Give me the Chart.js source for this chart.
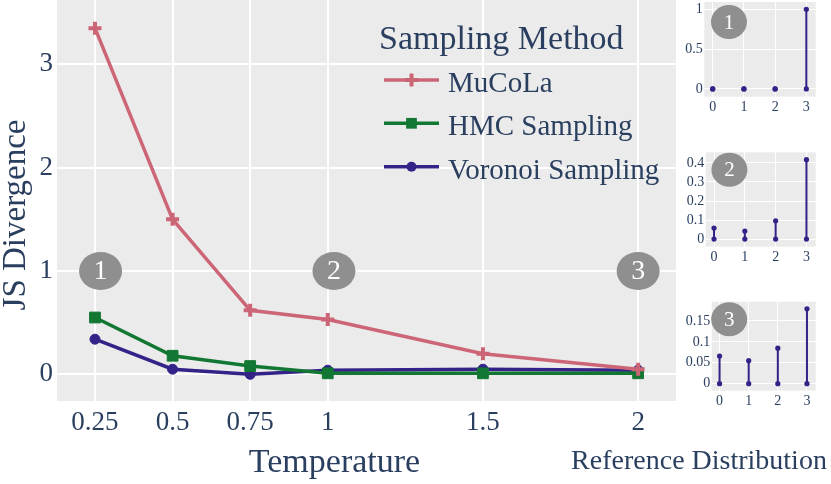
<!DOCTYPE html>
<html>
<head>
<meta charset="utf-8">
<script src="https://cdn.jsdelivr.net/npm/chart.js@4.4.0/dist/chart.umd.min.js"></script>
<style>
html,body{margin:0;padding:0;background:#fff;width:831px;height:484px;overflow:hidden;}
canvas{position:absolute;}
</style>
</head>
<body>
<canvas id="main" width="831" height="484" style="left:0;top:0;width:831px;height:484px"></canvas>
<canvas id="p1" width="151" height="120" style="left:680px;top:0px;width:151px;height:120px"></canvas>
<canvas id="p2" width="151" height="135" style="left:680px;top:140px;width:151px;height:135px"></canvas>
<canvas id="p3" width="151" height="135" style="left:680px;top:280px;width:151px;height:135px"></canvas>
<script>
// ---------------- data ----------------
const temperatures = [0.25, 0.5, 0.75, 1, 1.5, 2];
const temperatureTickLabels = ['0.25', '0.5', '0.75', '1', '1.5', '2'];
const divergenceTicks = [0, 1, 2, 3];
const divergenceTickLabels = ['0', '1', '2', '3'];
const seriesNames = ['MuCoLa', 'HMC Sampling', 'Voronoi Sampling'];
const mucolaJS = [3.35, 1.50, 0.62, 0.53, 0.20, 0.05];
const hmcJS = [0.55, 0.18, 0.08, 0.01, 0.01, 0.01];
const voronoiJS = [0.34, 0.05, 0.00, 0.04, 0.05, 0.04];
const badgeLabels = ['1', '2', '3'];
const badgeTemperatures = [0.268, 1.02, 2.0];
const badgeDivergence = [1, 1, 1];

const refCategories = [0, 1, 2, 3];
const refCategoryLabels = ['0', '1', '2', '3'];
const refDist1 = [0, 0, 0, 1];
const refDist2 = [0.058, 0.042, 0.096, 0.417];
const refDist3 = [0.066, 0.055, 0.085, 0.179];
const refTicks1 = [0, 0.5, 1];
const refTickLabels1 = ['0', '0.5', '1'];
const refTicks2 = [0, 0.1, 0.2, 0.3, 0.4];
const refTickLabels2 = ['0', '0.1', '0.2', '0.3', '0.4'];
const refTicks3 = [0, 0.05, 0.1, 0.15];
const refTickLabels3 = ['0', '0.05', '0.1', '0.15'];

// ---------------- styling ----------------
const FONT = '"Liberation Serif", "Times New Roman", serif';
const TEXT = '#2a3f5f';
const BG = '#ebebeb';
const BADGE = '#8f8f8f';
const COLORS = ['#cc6677', '#117733', '#332288'];
const STYLES = [
  {pointStyle: 'cross', radius: 6.5, borderWidth: 4},
  {pointStyle: 'rect', radius: 7.6, borderWidth: 1},
  {pointStyle: 'circle', radius: 5, borderWidth: 1}
];

const bgPlugin = {
  id: 'plotBg',
  beforeDraw(chart) {
    const {ctx, chartArea: a} = chart;
    ctx.save();
    ctx.fillStyle = BG;
    ctx.fillRect(a.left, a.top, a.right - a.left, a.bottom - a.top);
    ctx.restore();
  }
};

function badgePlugin(xs, ys, labels, rx, ry, size) {
  return {
    id: 'badges',
    beforeDatasetsDraw(chart) {
      const {ctx, scales: {x, y}} = chart;
      labels.forEach((t, i) => {
        const px = x.getPixelForValue(xs[i]);
        const py = y.getPixelForValue(ys[i]);
        ctx.save();
        ctx.fillStyle = BADGE;
        ctx.beginPath();
        ctx.ellipse(px, py, rx, ry, 0, 0, Math.PI * 2);
        ctx.fill();
        ctx.fillStyle = '#ffffff';
        ctx.font = size + 'px ' + FONT;
        ctx.textAlign = 'center';
        ctx.textBaseline = 'middle';
        ctx.fillText(t, px, py + 1);
        ctx.restore();
      });
    }
  };
}

function fixedTicks(values) {
  return (scale) => { scale.ticks = values.map(v => ({value: v})); };
}

function drawMarker(ctx, style, color, x, y) {
  ctx.save();
  ctx.fillStyle = color;
  ctx.strokeStyle = color;
  ctx.lineWidth = style.borderWidth;
  const r = style.radius;
  ctx.beginPath();
  if (style.pointStyle === 'cross') {
    ctx.moveTo(x - r, y); ctx.lineTo(x + r, y);
    ctx.moveTo(x, y - r); ctx.lineTo(x, y + r);
    ctx.stroke();
  } else if (style.pointStyle === 'rect') {
    const s = Math.SQRT1_2 * r;
    ctx.rect(x - s, y - s, 2 * s, 2 * s);
    ctx.fill();
  } else {
    ctx.arc(x, y, r, 0, Math.PI * 2);
    ctx.fill();
  }
  ctx.restore();
}

const mainTextPlugin = {
  id: 'mainText',
  afterDraw(chart) {
    const ctx = chart.ctx;
    ctx.save();
    ctx.fillStyle = TEXT;
    // legend
    ctx.textAlign = 'left';
    ctx.textBaseline = 'alphabetic';
    ctx.font = '34px ' + FONT;
    ctx.fillText('Sampling Method', 379, 49);
    const rows = [80, 123.3, 166.7];
    chart.data.datasets.forEach((ds, i) => {
      const y = rows[i];
      ctx.strokeStyle = COLORS[i];
      ctx.lineWidth = 3.5;
      ctx.beginPath();
      ctx.moveTo(384, y);
      ctx.lineTo(439, y);
      ctx.stroke();
      drawMarker(ctx, STYLES[i], COLORS[i], 411.5, y);
      ctx.fillStyle = TEXT;
      ctx.font = '29px ' + FONT;
      ctx.fillText(ds.label, 448, y + 12);
    });
    // axis titles
    ctx.textAlign = 'center';
    ctx.font = '34px ' + FONT;
    ctx.fillText('Temperature', 334.5, 471.5);
    ctx.font = '28px ' + FONT;
    ctx.fillText('Reference Distribution', 699, 469);
    ctx.translate(25, 215);
    ctx.rotate(-Math.PI / 2);
    ctx.font = '33px ' + FONT;
    ctx.fillText('JS Divergence', 0, 0);
    ctx.restore();
  }
};

const seriesValues = [mucolaJS, hmcJS, voronoiJS];
new Chart(document.getElementById('main'), {
  type: 'line',
  data: {
    datasets: seriesNames.map((name, i) => ({
      label: name,
      data: temperatures.map((t, j) => ({x: t, y: seriesValues[i][j]})),
      borderColor: COLORS[i],
      backgroundColor: COLORS[i],
      borderWidth: 3.5,
      pointStyle: STYLES[i].pointStyle,
      pointRadius: STYLES[i].radius,
      pointBorderWidth: STYLES[i].borderWidth,
      pointBackgroundColor: COLORS[i],
      pointBorderColor: COLORS[i],
      tension: 0,
      clip: false
    }))
  },
  options: {
    responsive: false,
    animation: false,
    events: [],
    layout: {autoPadding: false, padding: {left: 0, top: 0, right: 155, bottom: 0}},
    plugins: {legend: {display: false}, tooltip: {enabled: false}},
    scales: {
      x: {
        type: 'linear', min: 0.1276, max: 2.122,
        afterBuildTicks: fixedTicks(temperatures),
        ticks: {
          callback: (v, i) => temperatureTickLabels[i],
          font: {family: FONT, size: 27}, color: TEXT, padding: 6,
          autoSkip: false, maxRotation: 0
        },
        grid: {color: '#ffffff', lineWidth: 2, drawTicks: false},
        border: {display: false},
        afterFit: (s) => { s.height = 83; s.paddingLeft = 0; s.paddingRight = 0; }
      },
      y: {
        type: 'linear', min: -0.258, max: 3.623,
        afterBuildTicks: fixedTicks(divergenceTicks),
        ticks: {
          callback: (v, i) => divergenceTickLabels[i],
          font: {family: FONT, size: 27}, color: TEXT, padding: 4
        },
        grid: {color: '#ffffff', lineWidth: 2, drawTicks: false},
        border: {display: false},
        afterFit: (s) => { s.width = 57; s.paddingTop = 0; s.paddingBottom = 0; }
      }
    }
  },
  plugins: [bgPlugin, badgePlugin(badgeTemperatures, badgeDivergence, badgeLabels, 21.5, 19, 28), mainTextPlugin]
});

function stems(values) {
  const pts = [];
  refCategories.forEach((c, i) => {
    pts.push({x: c, y: 0}, {x: c, y: values[i]}, {x: c, y: null});
  });
  return pts;
}

function makePanel(id, values, yMin, yMax, ticks, tickLabels, yAxisW, xAxisH, padTop, badgeX, badgeY, badgeLabel) {
  new Chart(document.getElementById(id), {
    type: 'line',
    data: {
      datasets: [{
        data: stems(values),
        borderColor: '#332288',
        backgroundColor: '#332288',
        borderWidth: 2,
        pointRadius: 2.6,
        pointBorderWidth: 0,
        pointBackgroundColor: '#332288',
        spanGaps: false,
        clip: false
      }]
    },
    options: {
      responsive: false,
      animation: false,
      events: [],
      layout: {autoPadding: false, padding: {left: 0, top: padTop, right: 15.3, bottom: 0}},
      plugins: {legend: {display: false}, tooltip: {enabled: false}},
      scales: {
        x: {
          type: 'linear', min: -0.27, max: 3.3,
          afterBuildTicks: fixedTicks(refCategories),
          ticks: {
            callback: (v, i) => refCategoryLabels[i],
            font: {family: FONT, size: 14}, color: TEXT, padding: 2,
            autoSkip: false, maxRotation: 0
          },
          grid: {color: '#ffffff', lineWidth: 1, drawTicks: false},
          border: {display: false},
          afterFit: (s) => { s.height = xAxisH; s.paddingLeft = 0; s.paddingRight = 0; }
        },
        y: {
          type: 'linear', min: yMin, max: yMax,
          afterBuildTicks: fixedTicks(ticks),
          ticks: {
            callback: (v, i) => tickLabels[i],
            font: {family: FONT, size: 14}, color: TEXT, padding: 1.5
          },
          grid: {color: '#ffffff', lineWidth: 1, drawTicks: false},
          border: {display: false},
          afterFit: (s) => { s.width = yAxisW; s.paddingTop = 0; s.paddingBottom = 0; }
        }
      }
    },
    plugins: [bgPlugin, badgePlugin([badgeX], [badgeY], [badgeLabel], 18, 17, 21)]
  });
}

makePanel('p1', refDist1, -0.097, 1.092, refTicks1, refTickLabels1, 24.3, 23.3, 2, 0.52, 0.84, '1');
makePanel('p2', refDist2, -0.04, 0.456, refTicks2, refTickLabels2, 25.7, 28.3, 12.3, 0.5, 0.364, '2');
makePanel('p3', refDist3, -0.0167, 0.196, refTicks3, refTickLabels3, 31.7, 24.3, 21.7, 0.33, 0.154, '3');
</script>
</body>
</html>
